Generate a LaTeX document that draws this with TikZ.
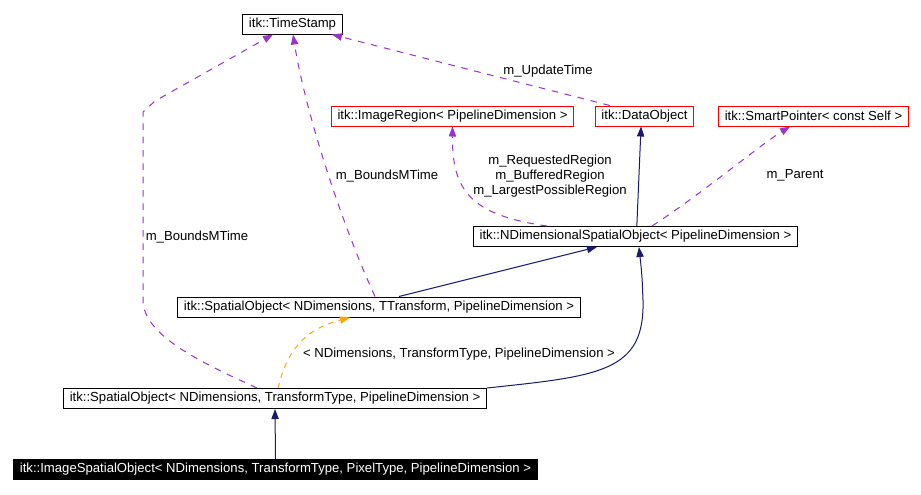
\documentclass[tikz,border=0pt]{standalone}
\usepackage{fontspec}
\setmainfont{Liberation Sans}
\usetikzlibrary{arrows.meta}
\definecolor{inhcol}{RGB}{25,25,112}
\definecolor{usecol}{RGB}{154,50,205}
\definecolor{tplcol}{RGB}{255,165,0}
\tikzset{
  cls/.style={draw=black,line width=0.75pt,fill=white,inner xsep=4.6pt,inner ysep=0pt,minimum height=15pt,font=\fontsize{9.85}{11}\selectfont},
  extcls/.style={cls,draw=red},
  curcls/.style={cls,fill=black,text=white},
  elab/.style={font=\fontsize{9.85}{11}\selectfont,inner sep=0pt,align=center},
  inh/.style={draw=inhcol,line width=0.75pt,-{Triangle[length=7.5pt,width=5.5pt]}},
  use/.style={draw=usecol,line width=0.75pt,dash pattern=on 5pt off 5pt,-{Triangle[length=7.5pt,width=5.5pt]}},
  tpl/.style={draw=tplcol,line width=0.75pt,dash pattern=on 4pt off 4pt,-{Triangle[length=7.5pt,width=5.5pt]}},
}
\begin{document}
\begin{tikzpicture}[x=0.75pt,y=-0.75pt]
  \useasboundingbox[fill=white] (0,0) rectangle (921,494);
  % classes
  \node[cls] (ts) at (292.5,24) {itk::TimeStamp};
  \node[extcls] (ir) at (452.5,116) {itk::ImageRegion< PipelineDimension >};
  \node[extcls] (dob) at (644.5,116) {itk::DataObject};
  \node[extcls] (sp) at (813.5,116) {itk::SmartPointer< const Self >};
  \node[cls] (nd) at (635.5,236.5) {itk::NDimensionalSpatialObject< PipelineDimension >};
  \node[cls] (so) at (379,307) {itk::SpatialObject< NDimensions, TTransform, PipelineDimension >};
  \node[cls] (so2) at (275,398.5) {itk::SpatialObject< NDimensions, TransformType, PipelineDimension >};
  \node[curcls] (iso) at (275.5,469.5) {itk::ImageSpatialObject< NDimensions, TransformType, PixelType, PipelineDimension >};
  % inheritance
  \draw[inh] (iso.north) -- (so2.south);
  \draw[inh] (so2.north east) .. controls (600,376) and (645,372) .. (643,300) .. controls (642,275) .. ([xshift=2.6pt]nd.south);
  \draw[inh] ([xshift=15pt]so.north) -- ([xshift=-28.9pt]nd.south);
  \draw[inh] ([xshift=1pt]nd.north) -- ([xshift=-2.6pt]dob.south);
  % template instance
  \draw[tpl] ([xshift=2.3pt]so2.north) .. controls (288,345) and (310,328) .. ([xshift=-21.8pt]so.south);
  % usage
  \draw[use] ([xshift=-13.5pt]so2.north) .. controls (200,362) and (143,335) .. (143,300) -- (143,112) -- (155,101) -- ([xshift=-14.6pt]ts.south);
  \draw[use] ([xshift=-3pt]so.north) .. controls (340,220) and (305,110) .. ([xshift=0.4pt]ts.south);
  \draw[use] ([xshift=-66.4pt]nd.north) .. controls (470,215) and (452,190) .. (ir.south);
  \draw[use] ([xshift=12.4pt]nd.north) .. controls (700,195) and (760,145) .. ([xshift=-17.6pt]sp.south);
  \draw[use] ([xshift=-26pt]dob.north) -- ([xshift=29.6pt]ts.south);
  % edge labels
  \node[elab] (lupd) at (548,71) {m\_UpdateTime};
  \node[elab] (lreg) at (550,176) {m\_RequestedRegion\\m\_BufferedRegion\\m\_LargestPossibleRegion};
  \node[elab] (lpar) at (795,175) {m\_Parent};
  \node[elab] (lbnd) at (197,237) {m\_BoundsMTime};
  \node[elab] (lbnd2) at (387,176) {m\_BoundsMTime};
  \node[elab] (ltpl) at (459,354) {< NDimensions, TransformType, PipelineDimension >};
\end{tikzpicture}
\end{document}
